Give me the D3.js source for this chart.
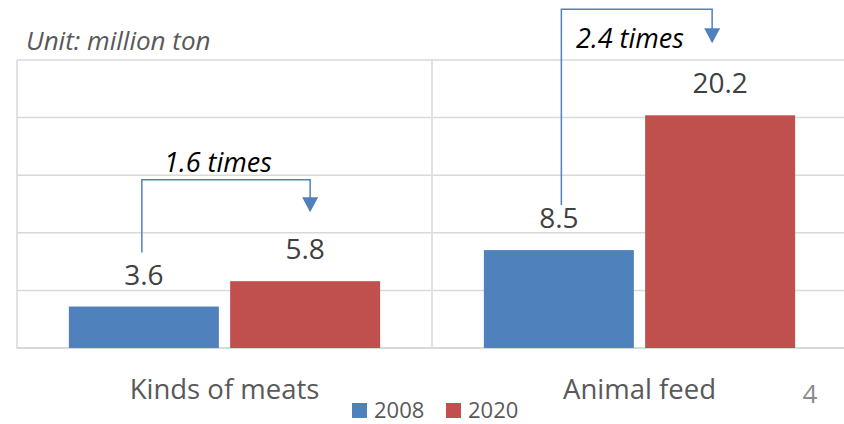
<!DOCTYPE html>
<html>
<head>
<meta charset="utf-8">
<script src="https://cdn.jsdelivr.net/npm/d3@7"></script>
<style>
  body { margin: 0; background: #fff; }
  svg { display: block; font-family: "Open Sans", Lato, sans-serif; }
</style>
</head>
<body>
<div id="chart"></div>
<script>
const categories = ["Kinds of meats", "Animal feed"];
const years = ["2008", "2020"];
const values2008 = [3.6, 8.5];
const values2020 = [5.8, 20.2];
const ratioLabels = ["1.6 times", "2.4 times"];
const gridTicks = [0, 5, 10, 15, 20, 25];

const W = 844, H = 424;
const colors = { "2008": "#4f81bd", "2020": "#c0504d" };

const svg = d3.select("#chart").append("svg")
    .attr("width", W)
    .attr("height", H);

const x0 = d3.scaleBand()
    .domain(categories)
    .range([17, 847])
    .paddingInner(0.25)
    .paddingOuter(0.125);

const x1 = d3.scaleBand()
    .domain(years)
    .range([0, x0.bandwidth()])
    .paddingInner(0.07);

const y = d3.scaleLinear()
    .domain([0, 25])
    .range([348, 60]);

// grid
svg.append("g")
    .selectAll("line")
    .data(gridTicks)
    .enter().append("line")
    .attr("x1", 17)
    .attr("x2", W)
    .attr("y1", d => y(d))
    .attr("y2", d => y(d))
    .attr("stroke", "#d9d9d9")
    .attr("stroke-width", d => d === 0 ? 2 : 1.5);

// left edge and category separator
const seps = [17, 17 + x0.step()];
svg.append("g")
    .selectAll("line")
    .data(seps)
    .enter().append("line")
    .attr("x1", d => d)
    .attr("x2", d => d)
    .attr("y1", y(25))
    .attr("y2", y(0) + 1)
    .attr("stroke", "#d9d9d9")
    .attr("stroke-width", 1.5);

const rows = categories.map((c, i) => ({
    cat: c,
    vals: [{ year: "2008", v: values2008[i] }, { year: "2020", v: values2020[i] }]
}));

const groups = svg.selectAll(".grp")
    .data(rows)
    .enter().append("g")
    .attr("class", "grp")
    .attr("transform", d => `translate(${x0(d.cat)},0)`);

groups.selectAll("rect")
    .data(d => d.vals)
    .enter().append("rect")
    .attr("x", d => x1(d.year))
    .attr("y", d => y(d.v))
    .attr("width", x1.bandwidth())
    .attr("height", d => y(0) - y(d.v))
    .attr("fill", d => colors[d.year]);

groups.selectAll("text.val")
    .data(d => d.vals)
    .enter().append("text")
    .attr("class", "val")
    .attr("x", d => x1(d.year) + x1.bandwidth() / 2)
    .attr("y", d => y(d.v) - 22)
    .attr("text-anchor", "middle")
    .attr("font-size", 28)
    .attr("fill", "#404040")
    .text(d => d.v.toFixed(1));

// category labels
svg.selectAll("text.cat")
    .data(categories)
    .enter().append("text")
    .attr("class", "cat")
    .attr("x", d => x0(d) + x0.bandwidth() / 2)
    .attr("y", 399)
    .attr("text-anchor", "middle")
    .attr("font-size", 27.5)
    .attr("fill", "#595959")
    .text(d => d);

// unit
svg.append("text")
    .attr("x", 26)
    .attr("y", 50)
    .attr("font-size", 26)
    .attr("font-style", "italic")
    .attr("fill", "#595959")
    .text("Unit: million ton");

// ratio arrows
const arrowTop = [14.6, 29.4];    // in value units
const arrowStartGap = [54, 45];   // px above the 2008 bar
const arrowEndGap = [69, 72];     // px above the 2020 bar
const startShift = [-2, 2.5];
const endShift = [5, -8];
const arrowColor = "#4f81bd";

rows.forEach((r, i) => {
    const xa = x0(r.cat) + x1("2008") + x1.bandwidth() / 2 + startShift[i];
    const xb = x0(r.cat) + x1("2020") + x1.bandwidth() / 2 + endShift[i];
    const ya = y(r.vals[0].v) - arrowStartGap[i];
    const yt = y(arrowTop[i]);
    const tip = y(r.vals[1].v) - arrowEndGap[i];
    svg.append("path")
        .attr("d", `M${xa},${ya}V${yt}H${xb}V${tip - 14}`)
        .attr("fill", "none")
        .attr("stroke", arrowColor)
        .attr("stroke-width", 1.5);
    svg.append("path")
        .attr("d", `M${xb - 8},${tip - 15}L${xb + 8},${tip - 15}L${xb},${tip}Z`)
        .attr("fill", arrowColor);
});

// ratio text
svg.append("text")
    .attr("x", 218)
    .attr("y", 172)
    .attr("text-anchor", "middle")
    .attr("font-size", 27)
    .attr("font-style", "italic")
    .attr("fill", "#000")
    .text(ratioLabels[0]);

svg.append("text")
    .attr("x", 630)
    .attr("y", 48)
    .attr("text-anchor", "middle")
    .attr("font-size", 27)
    .attr("font-style", "italic")
    .attr("fill", "#000")
    .text(ratioLabels[1]);

// legend
const legend = svg.append("g");
const legX = [352, 446];
years.forEach((yr, i) => {
    legend.append("rect")
        .attr("x", legX[i])
        .attr("y", 403)
        .attr("width", 15)
        .attr("height", 15)
        .attr("fill", colors[yr]);
    legend.append("text")
        .attr("x", legX[i] + 22)
        .attr("y", 418)
        .attr("font-size", 22)
        .attr("fill", "#595959")
        .text(yr);
});

// page number
svg.append("text")
    .attr("x", 810)
    .attr("y", 403)
    .attr("text-anchor", "middle")
    .attr("font-size", 26)
    .attr("fill", "#8c8c8c")
    .text("4");
</script>
</body>
</html>
